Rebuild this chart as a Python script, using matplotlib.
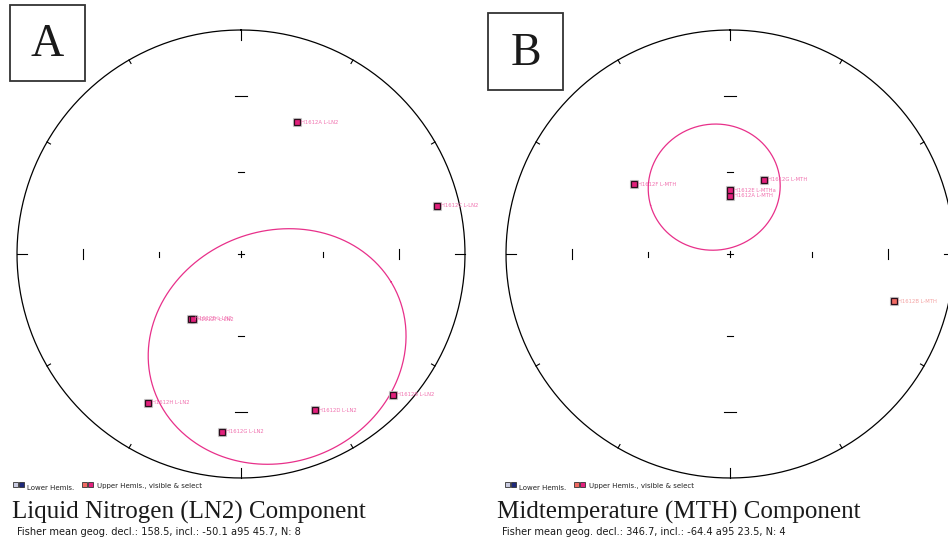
import numpy as np
import matplotlib.pyplot as plt
from matplotlib.patches import Rectangle

# LN2 component, specimen directions (geographic)
names_ln2 = ['H1612A L-LN2', 'H1612B L-LN2', 'H1612C L-LN2', 'H1612D L-LN2',
             'H1612E L-LN2', 'H1612F L-LN2', 'H1612G L-LN2', 'H1612H L-LN2']
dec_ln2 = [23.0, 132.8, 76.2, 154.6, 217.6, 216.4, 186.1, 212.0]
inc_ln2 = [-36.2, -8.2, -10.9, -23.9, -60.0, -60.4, -21.2, -22.7]
sel_ln2 = [True] * 8
mean_ln2 = (158.5, -50.1, 45.7, 8)

# MTH component
names_mth = ['H1612A L-MTH', 'H1612B L-MTH', 'H1612E L-MTHa', 'H1612F L-MTH', 'H1612G L-MTH']
dec_mth = [0.0, 106.0, 0.0, 306.1, 24.7]
inc_mth = [-68.9, -24.8, -66.7, -46.0, -60.2]
sel_mth = [True, False, True, True, True]
mean_mth = (346.7, -64.4, 23.5, 4)

W, H = 948, 546
R = 224      # net radius in pixels
L = 1.08     # axes half-width in net units

PINK = '#e8308a'
SEL_FILL = '#e2207c'
VIS_FILL = '#f06a62'
SEL_TEXT = '#f070ae'
VIS_TEXT = '#f4a2a2'
EDGE = '#2a0f1c'


def px(x, y):
    return x / W, 1 - y / H


def project(dec, inc):
    d = np.radians(dec)
    i = np.radians(np.abs(inc))
    r = np.sqrt(1 - np.sin(i))
    return r * np.sin(d), r * np.cos(d)


def cone(dec, inc, a95, n=400):
    d, i = np.radians(dec), np.radians(inc)
    m = np.array([np.cos(i) * np.cos(d), np.cos(i) * np.sin(d), np.sin(i)])
    u = np.cross(m, [0, 0, 1.0])
    u /= np.linalg.norm(u)
    v = np.cross(m, u)
    t = np.linspace(0, 2 * np.pi, n)
    a = np.radians(a95)
    p = np.cos(a) * m[:, None] + np.sin(a) * (np.cos(t) * u[:, None] + np.sin(t) * v[:, None])
    h = np.hypot(p[0], p[1])
    r = np.sqrt(1 - np.abs(p[2]))
    return r * p[1] / h, r * p[0] / h


def draw_net(ax):
    t = np.linspace(0, 2 * np.pi, 500)
    ax.plot(np.sin(t), np.cos(t), color='k', lw=0.9)
    for az in range(0, 360, 30):
        ln = 10 / R if az % 90 == 0 else 4 / R
        a = np.radians(az)
        ax.plot([np.sin(a) * (1 - ln), np.sin(a)], [np.cos(a) * (1 - ln), np.cos(a)],
                color='k', lw=0.8)
    r30 = np.sqrt(1 - np.sin(np.radians(30)))
    r60 = np.sqrt(1 - np.sin(np.radians(60)))
    for r, half in [(r30, 5 / R), (r60, 2.5 / R)]:
        for s in (-1, 1):
            ax.plot([s * r, s * r], [-half, half], color='k', lw=0.8)
            ax.plot([-half * 1.2, half * 1.2], [s * r, s * r], color='k', lw=0.8)
    c = 3 / R
    ax.plot([-c, c], [0, 0], color='k', lw=0.8)
    ax.plot([0, 0], [-c, c], color='k', lw=0.8)


def draw_panel(cx, cy, names, decs, incs, sels, mean):
    ax = fig.add_axes([(cx - L * R) / W, (H - cy - L * R) / H, 2 * L * R / W, 2 * L * R / H])
    ax.set_xlim(-L, L)
    ax.set_ylim(-L, L)
    ax.axis('off')
    draw_net(ax)
    mx, my = cone(mean[0], mean[1], mean[2])
    ax.plot(mx, my, color=PINK, lw=0.9)
    for name, d, i, s in zip(names, decs, incs, sels):
        x, y = project(d, i)
        ax.plot(x, y, 's', ms=6.2, mfc='none', mec='#c8c8c8', mew=0.8, zorder=3)
        ax.plot(x, y, 's', ms=4.6, mfc=SEL_FILL if s else VIS_FILL, mec=EDGE, mew=0.9, zorder=4)
        ax.annotate(name, (x, y), xytext=(4, 0), textcoords='offset pixels',
                    fontsize=3.8, color=SEL_TEXT if s else VIS_TEXT,
                    va='center', ha='left', zorder=5)
    return ax


def legend(x0, y0):
    sq = [(x0, '#c9cbe0'), (x0 + 6, '#1f2a7a')]
    for x, c in sq:
        fig.add_artist(Rectangle(px(x, y0 + 5), 5 / W, 5 / H, fc=c, ec='#333333', lw=0.6))
    fig.text(*px(x0 + 14, y0 + 8), 'Lower Hemis.', fontsize=5, va='baseline', color='#222222')
    for x, c in [(x0 + 69, VIS_FILL), (x0 + 75, SEL_FILL)]:
        fig.add_artist(Rectangle(px(x, y0 + 5), 5 / W, 5 / H, fc=c, ec='#333333', lw=0.6))
    fig.text(*px(x0 + 84, y0 + 6), 'Upper Hemis., visible & select', fontsize=5,
             va='baseline', color='#222222')


def box_label(x0, y0, x1, y1, letter):
    fig.add_artist(Rectangle(px(x0, y1), (x1 - x0) / W, (y1 - y0) / H,
                             fc='none', ec='#333333', lw=1.3))
    fig.text(*px((x0 + x1) / 2, (y0 + y1) / 2 + 2), letter, fontsize=33,
             family='Liberation Serif', ha='center', va='center', color='#1a1a1a')


def caption(x, title, mean):
    fig.text(*px(x, 519), title, fontsize=18, family='Liberation Serif',
             va='baseline', color='#1a1a1a')
    sub = 'Fisher mean geog. decl.: %.1f, incl.: %.1f a95 %.1f, N: %d' % mean
    fig.text(*px(x + 5, 535), sub, fontsize=7.1, va='baseline', color='#1a1a1a')


fig = plt.figure(figsize=(W / 100, H / 100), dpi=100)

draw_panel(241, 254, names_ln2, dec_ln2, inc_ln2, sel_ln2, mean_ln2)
draw_panel(730, 254, names_mth, dec_mth, inc_mth, sel_mth, mean_mth)

box_label(10, 5, 85, 81, 'A')
box_label(488, 13, 563, 90, 'B')

legend(13, 482)
legend(505, 482)

caption(12, 'Liquid Nitrogen (LN2) Component', mean_ln2)
caption(497, 'Midtemperature (MTH) Component', mean_mth)

fig.savefig('out.png', dpi=100)
